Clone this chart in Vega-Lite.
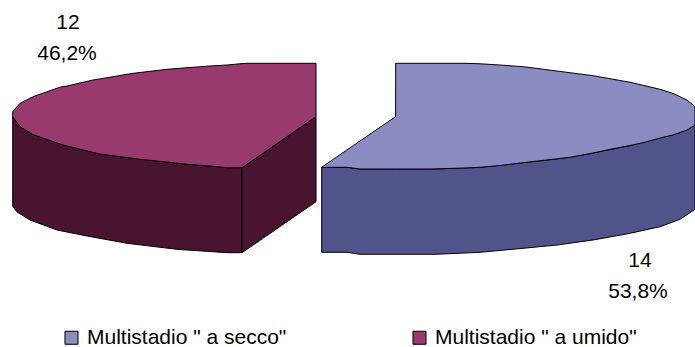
{
"$schema":"https://vega.github.io/schema/vega-lite/v6.json",
"width":695,"height":347,"padding":0,"autosize":{"type":"none"},
"background":"white",
"config":{"view":{"stroke":null}},
"datasets":{
"walls":[
{"part":"blue outer","x":321.7,"y":167.3,"y2":252.3},
{"part":"blue outer","x":347,"y":167.3,"y2":252.3},
{"part":"blue outer","x":360,"y":169,"y2":254.3},
{"part":"blue outer","x":435,"y":169,"y2":254.3},
{"part":"blue outer","x":480,"y":167.3,"y2":252.3},
{"part":"blue outer","x":523,"y":162.7,"y2":248.3},
{"part":"blue outer","x":557,"y":159,"y2":245},
{"part":"blue outer","x":593,"y":153,"y2":240},
{"part":"blue outer","x":630,"y":145.5,"y2":233.3},
{"part":"blue outer","x":660,"y":138,"y2":226.7},
{"part":"blue outer","x":680,"y":132.5,"y2":219.3},
{"part":"blue outer","x":695,"y":125,"y2":209.3},
{"part":"plum outer","x":12.7,"y":116.7,"y2":206},
{"part":"plum outer","x":16.7,"y":122,"y2":211.7},
{"part":"plum outer","x":30,"y":132.8,"y2":220},
{"part":"plum outer","x":57,"y":143,"y2":230},
{"part":"plum outer","x":87,"y":151,"y2":236},
{"part":"plum outer","x":127,"y":157.5,"y2":243.3},
{"part":"plum outer","x":177,"y":163,"y2":249.3},
{"part":"plum outer","x":227,"y":167.7,"y2":252.7},
{"part":"plum outer","x":242,"y":167.7,"y2":252.7},
{"part":"plum inner","x":242,"y":167.7,"y2":252.7},
{"part":"plum inner","x":316,"y":116.7,"y2":201.7}
],
"tops":[
{"series":"Multistadio \" a secco\"","x":321.7,"y":167.3,"y2":167.3},
{"series":"Multistadio \" a secco\"","x":347,"y":149.9,"y2":167.3},
{"series":"Multistadio \" a secco\"","x":360,"y":141,"y2":169},
{"series":"Multistadio \" a secco\"","x":395.6,"y":116.7,"y2":169},
{"series":"Multistadio \" a secco\"","x":395.7,"y":63.3,"y2":169},
{"series":"Multistadio \" a secco\"","x":430,"y":63.3,"y2":169},
{"series":"Multistadio \" a secco\"","x":465,"y":63.3,"y2":168},
{"series":"Multistadio \" a secco\"","x":480,"y":63.8,"y2":167.3},
{"series":"Multistadio \" a secco\"","x":500,"y":65,"y2":165.5},
{"series":"Multistadio \" a secco\"","x":523,"y":66.7,"y2":162.7},
{"series":"Multistadio \" a secco\"","x":570,"y":72.7,"y2":157.3},
{"series":"Multistadio \" a secco\"","x":593,"y":75.7,"y2":153},
{"series":"Multistadio \" a secco\"","x":610,"y":78.7,"y2":149.3},
{"series":"Multistadio \" a secco\"","x":630,"y":82.3,"y2":145.5},
{"series":"Multistadio \" a secco\"","x":643,"y":85.3,"y2":142.7},
{"series":"Multistadio \" a secco\"","x":660,"y":89.3,"y2":138},
{"series":"Multistadio \" a secco\"","x":673,"y":93.5,"y2":135},
{"series":"Multistadio \" a secco\"","x":687,"y":100,"y2":130},
{"series":"Multistadio \" a secco\"","x":695,"y":106.7,"y2":125},
{"series":"Multistadio \" a umido\"","x":12.7,"y":111.7,"y2":116.7},
{"series":"Multistadio \" a umido\"","x":20,"y":103.3,"y2":126.7},
{"series":"Multistadio \" a umido\"","x":33,"y":96.7,"y2":134.6},
{"series":"Multistadio \" a umido\"","x":60,"y":87.2,"y2":144},
{"series":"Multistadio \" a umido\"","x":67,"y":86,"y2":146},
{"series":"Multistadio \" a umido\"","x":93,"y":80,"y2":152.4},
{"series":"Multistadio \" a umido\"","x":100,"y":78.9,"y2":154},
{"series":"Multistadio \" a umido\"","x":133,"y":73.3,"y2":158.4},
{"series":"Multistadio \" a umido\"","x":140,"y":72.5,"y2":159.3},
{"series":"Multistadio \" a umido\"","x":167,"y":69.3,"y2":162},
{"series":"Multistadio \" a umido\"","x":187,"y":67.7,"y2":164.3},
{"series":"Multistadio \" a umido\"","x":210,"y":66,"y2":166},
{"series":"Multistadio \" a umido\"","x":227,"y":65,"y2":167.7},
{"series":"Multistadio \" a umido\"","x":242,"y":63.6,"y2":167.7},
{"series":"Multistadio \" a umido\"","x":248,"y":63.3,"y2":163.6},
{"series":"Multistadio \" a umido\"","x":316,"y":63.3,"y2":116.7}
],
"labels":[
{"x":68,"y":29,"label":"12"},
{"x":67,"y":60,"label":"46,2%"},
{"x":640,"y":267,"label":"14"},
{"x":638,"y":298,"label":"53,8%"}
]
},
"layer":[
{"data":{"name":"walls"},
 "transform":[{"filter":"datum.part === 'blue outer'"}],
 "mark":{"type":"area","orient":"vertical","fill":"#50548A","stroke":"#000000","strokeWidth":1,"opacity":1},
 "encoding":{
  "x":{"field":"x","type":"quantitative","scale":{"domain":[0,695],"range":[0,695],"nice":false,"zero":false},"axis":null},
  "y":{"field":"y","type":"quantitative","stack":null,"scale":{"domain":[0,347],"range":[0,347],"nice":false,"zero":false},"axis":null},
  "y2":{"field":"y2"}
 }},
{"data":{"name":"walls"},
 "transform":[{"filter":"datum.part !== 'blue outer'"}],
 "mark":{"type":"area","orient":"vertical","fill":"#48142F","stroke":"#000000","strokeWidth":1,"opacity":1},
 "encoding":{
  "x":{"field":"x","type":"quantitative","axis":null},
  "y":{"field":"y","type":"quantitative","stack":null,"axis":null},
  "y2":{"field":"y2"},
  "detail":{"field":"part"}
 }},
{"data":{"name":"tops"},
 "mark":{"type":"area","orient":"vertical","stroke":"#000000","strokeWidth":1,"opacity":1},
 "encoding":{
  "x":{"field":"x","type":"quantitative","axis":null},
  "y":{"field":"y","type":"quantitative","stack":null,"axis":null},
  "y2":{"field":"y2"},
  "color":{"field":"series","type":"nominal","scale":{"domain":["Multistadio \" a secco\"","Multistadio \" a umido\""],"range":["#8A8CC2","#993A6F"]},
   "legend":{"title":null,"orient":"none","legendX":61,"legendY":327,"columns":2,"direction":"horizontal","symbolType":"square","symbolSize":170,"symbolStrokeColor":"#000000","symbolStrokeWidth":1,"symbolOpacity":1,"labelFont":"Liberation Sans","labelFontSize":21,"labelColor":"#000000","labelOffset":5,"columnPadding":122,"labelLimit":400,"padding":0}}
 }},
{"data":{"name":"labels"},
 "mark":{"type":"text","font":"Liberation Sans","fontSize":21,"color":"#000000","align":"center","baseline":"alphabetic"},
 "encoding":{
  "x":{"field":"x","type":"quantitative","axis":null},
  "y":{"field":"y","type":"quantitative","axis":null},
  "text":{"field":"label"}
 }}
]
}
